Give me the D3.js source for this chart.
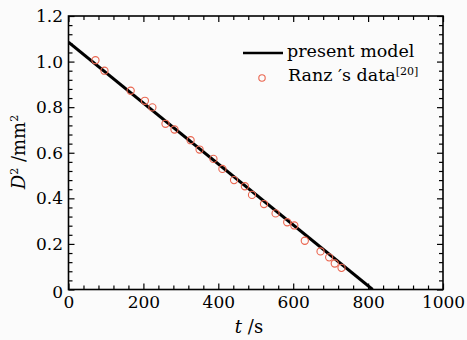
<!DOCTYPE html>
<html><head><meta charset="utf-8">
<script src="https://cdn.jsdelivr.net/npm/d3@7"></script>
<style>
html,body{margin:0;padding:0;background:#fbfbfb;}
svg{display:block;font-family:"DejaVu Serif",serif;}
</style></head>
<body>
<svg id="chart" width="467" height="340"></svg>
<script>
// data
const ranzT = [72, 96, 166, 204, 224, 259, 283, 326, 350, 387, 411, 442, 471, 490, 522, 553, 584, 603, 631, 673, 696, 711, 729];
const ranzD = [1.006, 0.96, 0.872, 0.828, 0.799, 0.727, 0.702, 0.655, 0.614, 0.573, 0.529, 0.480, 0.453, 0.415, 0.375, 0.334, 0.295, 0.281, 0.214, 0.167, 0.141, 0.114, 0.095];
const modelT = [0, 812];
const modelD = [1.085, 0];
const xTicks = [0, 200, 400, 600, 800, 1000];
const yTicks = [0, 0.2, 0.4, 0.6, 0.8, 1.0, 1.2];
const yTickLabels = ["0", "0.2", "0.4", "0.6", "0.8", "1.0", "1.2"];
const legendLabels = ["present model", "Ranz \u2032s data", "[20]"];

const svg = d3.select("#chart");
const L = 68.5, R = 443, T = 16, B = 289.5;
const x = d3.scaleLinear().domain([0, 1000]).range([L, R]);
const y = d3.scaleLinear().domain([0, 1.2]).range([B, T]);

const xMinor = d3.range(0, 1001, 40).filter(v => v % 200 !== 0);
const yMinor = d3.range(0, 61, 2).map(v => v / 50).filter((v, i) => i % 5 !== 0);

const g = svg.append("g");
svg.append("clipPath").attr("id", "clip").append("rect")
  .attr("x", L).attr("y", T).attr("width", R - L).attr("height", B - T);
const line = d3.line().x(d => x(d[0])).y(d => y(d[1]));
g.append("path").datum(modelT.map((t, i) => [t, modelD[i]]))
  .attr("d", line).attr("fill", "none").attr("stroke", "#000").attr("stroke-width", 3)
  .attr("clip-path", "url(#clip)");

g.selectAll("circle.pt").data(ranzT.map((t, i) => [t, ranzD[i]])).enter()
  .append("circle").attr("class", "pt")
  .attr("cx", d => x(d[0])).attr("cy", d => y(d[1])).attr("r", 3.6)
  .attr("fill", "none").attr("stroke", "#ea6650").attr("stroke-width", 1.1);

function addAxis(axisGen, transform, showLabels) {
  const a = svg.append("g").attr("transform", transform).call(axisGen);
  a.select(".domain").remove();
  a.selectAll("line").attr("stroke", "#000").attr("stroke-width", 1.2);
  if (!showLabels) a.selectAll("text").remove();
  return a;
}
const xb = addAxis(d3.axisBottom(x).tickValues(xTicks).tickSize(-6).tickPadding(6.5).tickFormat(d3.format("d")), `translate(0,${B})`, true);
xb.selectAll("text").attr("font-size", 17).attr("fill", "#000").attr("font-family", "DejaVu Serif");
addAxis(d3.axisBottom(x).tickValues(xMinor).tickSize(-4), `translate(0,${B})`, false);
addAxis(d3.axisTop(x).tickValues(xTicks).tickSize(-6), `translate(0,${T})`, false);
addAxis(d3.axisTop(x).tickValues(xMinor).tickSize(-4), `translate(0,${T})`, false);
const yl = addAxis(d3.axisLeft(y).tickValues(yTicks).tickSize(-6).tickPadding(5.5).tickFormat((d, i) => yTickLabels[i]), `translate(${L},0)`, true);
yl.selectAll("text").attr("font-size", 17).attr("fill", "#000").attr("font-family", "DejaVu Serif");
yl.selectAll("text").filter(d => d === 0).attr("dy", "0.45em");
addAxis(d3.axisLeft(y).tickValues(yMinor).tickSize(-4), `translate(${L},0)`, false);
addAxis(d3.axisRight(y).tickValues(yTicks).tickSize(-6), `translate(${R},0)`, false);
addAxis(d3.axisRight(y).tickValues(yMinor).tickSize(-4), `translate(${R},0)`, false);

svg.append("rect").attr("x", L).attr("y", T).attr("width", R - L).attr("height", B - T)
  .attr("fill", "none").attr("stroke", "#000").attr("stroke-width", 1.6);

const xl = svg.append("text").attr("x", 249).attr("y", 333).attr("text-anchor", "middle")
  .attr("font-size", 18).attr("fill", "#000");
xl.append("tspan").attr("font-style", "italic").text("t");
xl.append("tspan").text(" /s");

const ylab = svg.append("text").attr("transform", "translate(25,152) rotate(-90)")
  .attr("text-anchor", "middle").attr("font-size", 18).attr("fill", "#000");
ylab.append("tspan").attr("font-style", "italic").text("D");
ylab.append("tspan").attr("font-size", 11).attr("dy", -7).text("2");
ylab.append("tspan").attr("dy", 7).text(" /mm");
ylab.append("tspan").attr("font-size", 11).attr("dy", -7).text("2");

svg.append("line").attr("x1", 243).attr("x2", 283).attr("y1", 53).attr("y2", 53)
  .attr("stroke", "#000").attr("stroke-width", 2.6);
svg.append("text").attr("x", 287).attr("y", 57).attr("font-size", 17.5).attr("fill", "#000").text(legendLabels[0]);
svg.append("circle").attr("cx", 262).attr("cy", 78).attr("r", 3.2)
  .attr("fill", "none").attr("stroke", "#ea6650").attr("stroke-width", 1.1);
const lt = svg.append("text").attr("x", 288).attr("y", 81).attr("font-size", 17.5).attr("fill", "#000");
lt.append("tspan").text(legendLabels[1]);
lt.append("tspan").attr("font-size", 11).attr("dy", -6).text(legendLabels[2]);
</script>
</body></html>
